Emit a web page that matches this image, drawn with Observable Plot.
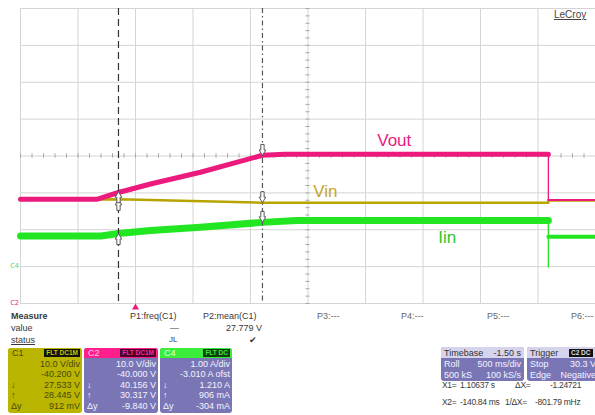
<!DOCTYPE html>
<html><head><meta charset="utf-8">
<script src="https://cdn.jsdelivr.net/npm/d3@7"></script>
<script src="https://cdn.jsdelivr.net/npm/@observablehq/plot@0.6"></script>
<style>
body{margin:0;background:#fff;overflow:hidden;font-family:"Liberation Sans",Arial,sans-serif;}
#wrap{position:relative;width:595px;height:415px;overflow:hidden;}
#wrap svg{position:absolute;left:0;top:0;}
.a{position:absolute;white-space:nowrap;font-size:9px;line-height:10px;color:#3a3a3a;}
</style></head><body><div id="wrap"></div>
<script>
// ---- channel settings (read from the scope readouts) ----
const channels   = ["C1", "C2", "C4"];
const perDiv     = [10, 10, 1];          // V/div, V/div, A/div
const offsets    = [-40.2, -40.0, -3.01]; // offset
const chColors   = ["#b8a400", "#ec1a7d", "#22e622"];
const chNames    = ["Vin", "Vout", "Iin"];

// ---- traces (time in s from left edge of screen) ----
const tVout = [0, 0.67, 0.852, 1.13, 1.565, 2.104, 2.3, 4.59, 4.59, 5.0];
const vVout = [28.3, 28.3, 30.1, 32.4, 35.6, 40.2, 40.45, 40.45, 28.1, 28.1];
const tVin  = [0, 0.67, 0.852, 2.104, 4.59, 4.59, 5.0];
const vVin  = [28.4, 28.4, 28.445, 27.533, 27.5, 28.1, 28.1];
const tIin  = [0, 0.70, 0.852, 1.13, 1.565, 2.104, 2.4, 4.59, 4.59, 4.59, 5.0];
const vIin  = [0.84, 0.84, 0.906, 0.99, 1.08, 1.21, 1.26, 1.26, 0.0, 0.82, 0.82];

// ---- cursors ----
const cursorT   = [0.852, 2.104];              // X1, X2 positions
const readUp    = [28.445, 30.317, 0.906];     // value at X1 (C1, C2, C4)
const readDown  = [27.533, 40.156, 1.210];     // value at X2
const triggerT  = 1.0;

// ---- trace label positions ----
const labelT = [2.65, 3.25, 3.71];
const labelV = [30.6, 44.2, 0.81];

// ---- readout texts ----
const c1Rows = ["10.0 V/div", "-40.200 V", "27.533 V", "28.445 V", "912 mV"];
const c2Rows = ["10.0 V/div", "-40.000 V", "40.156 V", "30.317 V", "-9.840 V"];
const c4Rows = ["1.00 A/div", "-3.010 A ofst", "1.210 A", "906 mA", "-304 mA"];
const rowSyms = ["", "", "\u2193", "\u2191", "\u0394y"];
const measHead = ["P1:freq(C1)", "P2:mean(C1)", "P3:---", "P4:---", "P5:---", "P6:---"];
const measVal = ["\u2014", "27.779 V"];
const timebase = [["Timebase", "-1.50 s"], ["Roll", "500 ms/div"], ["500 kS", "100 kS/s"]];
const trigger  = [["Trigger", ""], ["Stop", "30.3 V"], ["Edge", "Negative"]];
const cursorTxt = [["X1=", "1.10637 s", "\u0394X=", "-1.24721"], ["X2=", "-140.84 ms", "1/\u0394X=", "-801.79 mHz"]];

// ---------------------------------------------------------------
const secPerDiv = 0.5;
const xTicks = d3.range(0, 11).map(i => i * secPerDiv);
const yTicks = d3.range(-4, 5);
const minorX = d3.range(0, 51).map(i => i * secPerDiv / 5);
const minorY = d3.range(-20, 21).map(i => i / 5);
const toDiv = (ch, v) => { const i = channels.indexOf(ch); return (v + offsets[i]) / perDiv[i]; };
const rows = (ch, ts, vs) => ts.map((t, i) => ({t, y: toDiv(ch, vs[i])}));
const dropT = tVout.find((t, i) => t === tVout[i + 1]);

function traceMarks(rs, color, wPre, wPost) {
  const d0 = rs.findIndex(r => r.t === dropT);
  const d1 = rs.map(r => r.t).lastIndexOf(dropT);
  return [
    Plot.line(rs.slice(0, d0 + 1), {x: "t", y: "y", stroke: color, strokeWidth: wPre}),
    Plot.line(rs.slice(d0, d1 + 1), {x: "t", y: "y", stroke: color, strokeWidth: 1.3}),
    Plot.line(rs.slice(d1), {x: "t", y: "y", stroke: color, strokeWidth: wPost})
  ];
}

// hollow cursor arrows (tip at the trace)
const arrowDown = {draw(ctx, size) {
  const r = Math.sqrt(size / Math.PI), w = r * 0.3, h = r * 0.6;
  ctx.moveTo(-w, -2 * r); ctx.lineTo(w, -2 * r); ctx.lineTo(w, -r); ctx.lineTo(h, -r);
  ctx.lineTo(0, 0); ctx.lineTo(-h, -r); ctx.lineTo(-w, -r); ctx.closePath();
}};
const arrowUp = {draw(ctx, size) {
  const r = Math.sqrt(size / Math.PI), w = r * 0.3, h = r * 0.6;
  ctx.moveTo(-w, 2 * r); ctx.lineTo(w, 2 * r); ctx.lineTo(w, r); ctx.lineTo(h, r);
  ctx.lineTo(0, 0); ctx.lineTo(-h, r); ctx.lineTo(-w, r); ctx.closePath();
}};

const rVin = rows("C1", tVin, vVin), rVout = rows("C2", tVout, vVout), rIin = rows("C4", tIin, vIin);
const ups = channels.map((ch, i) => ({t: cursorT[0], y: toDiv(ch, readUp[i])}));
const downs = channels.map((ch, i) => ({t: cursorT[1], y: toDiv(ch, readDown[i])}));
const labels = channels.map((ch, i) => ({t: labelT[i], y: toDiv(ch, labelV[i]), name: chNames[i], c: chColors[i]}));
labels[0].c = "#c9a52a"; labels[2].c = "#33c233";
const zeroMarks = [{ch: "C4", c: "#5ad35a"}, {ch: "C2", c: "#ec1a7d"}];

const plot = Plot.plot({
  width: 595, height: 310, marginLeft: 20, marginRight: 0, marginTop: 8, marginBottom: 7,
  x: {domain: [0, 5], axis: null},
  y: {domain: [-4, 4], axis: null},
  style: {background: "transparent", overflow: "visible"},
  marks: [
    Plot.ruleX(xTicks, {stroke: "#d4d4d4"}),
    Plot.ruleY(yTicks, {stroke: "#d4d4d4"}),
    Plot.ruleX(minorX, {y1: -0.06, y2: 0.06, stroke: "#a8a8a8"}),
    Plot.ruleY(minorY, {x1: 2.5 - 0.018, x2: 2.5 + 0.018, stroke: "#a8a8a8"}),
    ...traceMarks(rIin, chColors[2], 7, 4),
    ...traceMarks(rVin, chColors[0], 2.5, 2.5),
    ...traceMarks(rVout, chColors[1], 5, 2),
    Plot.ruleX([cursorT[0]], {stroke: "#333", strokeWidth: 1.2, strokeDasharray: "7,4"}),
    Plot.ruleX([cursorT[1]], {stroke: "#555", strokeWidth: 1.2, strokeDasharray: "5,3,1.5,3"}),
    Plot.dot(downs, {x: "t", y: "y", symbol: arrowDown, r: 5.5, fill: "white", stroke: "#555", strokeWidth: 1}),
    Plot.dot(ups, {x: "t", y: "y", symbol: arrowUp, r: 5.5, fill: "white", stroke: "#555", strokeWidth: 1}),
    Plot.text(labels, {x: "t", y: "y", text: "name", fill: "c", fontSize: 17, fontFamily: "Liberation Sans, Arial, sans-serif"}),
    Plot.dot([triggerT], {x: d => d, y: () => -4, symbol: "triangle", r: 2.6, fill: "#ec1a7d", dy: 4}),
    Plot.text(zeroMarks, {x: () => 0, y: d => toDiv(d.ch, 0), text: "ch", fill: "c", fontSize: 7, dx: -6, lineAnchor: "bottom", dy: 1})
  ]
});
const wrap = document.getElementById("wrap");
wrap.appendChild(plot);

function el(style, text, parent) {
  const e = document.createElement("div");
  e.className = "a";
  Object.assign(e.style, style);
  if (text != null) e.textContent = text;
  (parent || wrap).appendChild(e);
  return e;
}

// LeCroy logo
el({left: "554px", top: "10px", fontSize: "10px", color: "#444", textDecoration: "underline"}, "LeCroy");

// Measure table
el({left: "11px", top: "311px", fontWeight: "bold"}, "Measure");
el({left: "11px", top: "323px"}, "value");
el({left: "11px", top: "335px", textDecoration: "underline"}, "status");
const headX = [130, 203, 317, 401, 487, 571];
measHead.forEach((h, i) => el({left: headX[i] + "px", top: "311px", color: i < 2 ? "#3a3a3a" : "#666"}, h));
el({left: "170px", top: "323px"}, measVal[0]);
el({right: (595 - 262) + "px", top: "323px"}, measVal[1]);
el({left: "169px", top: "335px", fontSize: "8px"}, "JL");
el({left: "249px", top: "335px"}, "\u2714");

// channel boxes
function chBox(o) {
  const box = el({left: o.left + "px", top: "348px", width: o.width + "px", height: "65px", background: o.bg, borderRadius: "3px", overflow: "hidden", color: o.fg});
  const hdr = el({left: "0", top: "0", width: "100%", height: "10px", background: o.hdr}, null, box);
  el({left: "4px", top: "0", color: o.nameFg}, o.name, hdr);
  el({right: "2px", top: "1px", height: "8px", lineHeight: "8px", fontSize: "6.5px", fontWeight: "bold", background: o.badgeBg, color: o.badgeFg, padding: "0 2px"}, o.badge, hdr);
  o.rows.forEach((r, i) => {
    const y = 11 + i * 10.4;
    el({right: "2px", top: y + "px", color: o.fg}, r, box);
    if (rowSyms[i]) el({left: "3px", top: y + "px", color: o.fg}, rowSyms[i], box);
  });
}
chBox({left: 8, width: 74, bg: "#b9b500", hdr: "#b9b500", fg: "#4a4a10", name: "C1", nameFg: "#4a4a10", badge: "FLT DC1M", badgeBg: "#111", badgeFg: "#c8c400", rows: c1Rows});
chBox({left: 84, width: 74, bg: "#7a76b6", hdr: "#ff1e8c", fg: "#f4f4ff", name: "C2", nameFg: "#ffd0e6", badge: "FLT DC1M", badgeBg: "#4a0026", badgeFg: "#ff2a90", rows: c2Rows});
chBox({left: 160, width: 72, bg: "#7a76b6", hdr: "#3cee3c", fg: "#f4f4ff", name: "C4", nameFg: "#eaffea", badge: "FLT DC", badgeBg: "#0d3d0d", badgeFg: "#3cee3c", rows: c4Rows});

// timebase & trigger
function infoBox(left, width, items, badge) {
  const box = el({left: left + "px", top: "347px", width: width + "px", height: "34px", background: "#7a76b6", borderRadius: "3px", overflow: "hidden"});
  el({left: "0", top: "0", width: "100%", height: "11px", background: "#d6d4ec"}, null, box);
  items.forEach((it, i) => {
    const c = i === 0 ? "#333" : "#f4f4ff";
    el({left: "3px", top: (i * 11 + 0.5) + "px", color: c}, it[0], box);
    if (it[1]) el({right: "3px", top: (i * 11 + 0.5) + "px", color: c}, it[1], box);
  });
  if (badge) el({left: "42px", top: "1.5px", height: "8px", lineHeight: "8px", fontSize: "6.5px", fontWeight: "bold", background: "#111", color: "#ddd", padding: "0 2px"}, badge, box);
}
infoBox(441, 83, timebase);
infoBox(527, 72, trigger, "C2 DC");

// cursor readouts
const cx = [[442, 460, 515, 550], [442, 460, 505, 535]];
cursorTxt.forEach((row, r) => row.forEach((s, k) => el({left: cx[r][k] + "px", top: (380 + r * 17) + "px", fontSize: "8.5px", letterSpacing: "-0.3px"}, s)));
</script></body></html>
